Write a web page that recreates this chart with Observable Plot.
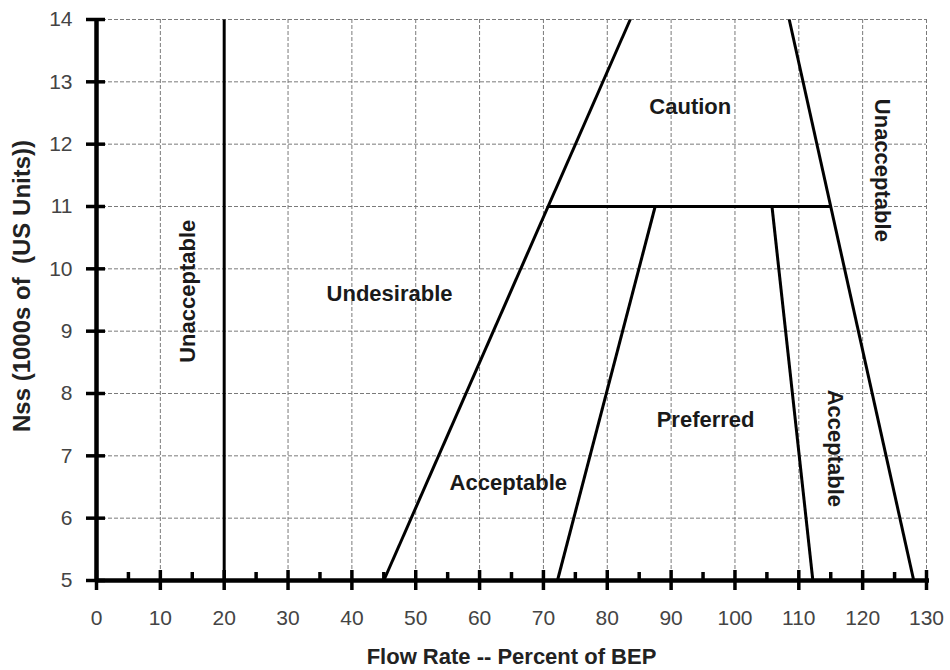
<!DOCTYPE html>
<html>
<head>
<meta charset="utf-8">
<script src="https://cdn.jsdelivr.net/npm/d3@7"></script>
<script src="https://cdn.jsdelivr.net/npm/@observablehq/plot@0.6"></script>
<style>
  html, body { margin: 0; padding: 0; background: #fff; }
  #chart svg { display: block; }
</style>
</head>
<body>
<div id="chart"></div>
<script>
// ---- data ----
const xMajorTicks = [0, 10, 20, 30, 40, 50, 60, 70, 80, 90, 100, 110, 120, 130];
const xMinorTicks = [5, 15, 25, 35, 45, 55, 65, 75, 85, 95, 105, 115, 125];
const yTicks = [5, 6, 7, 8, 9, 10, 11, 12, 13, 14];
const xGridLines = [10, 20, 30, 40, 50, 60, 70, 80, 90, 100, 110, 120, 130];
const yGridLines = [6, 7, 8, 9, 10, 11, 12, 13, 14];

// boundary segments (flow %, Nss in 1000s)
const segX1 = [20, 45.0, 72.2, 112.2, 128.0, 70.8];
const segY1 = [5, 5, 5, 5, 5, 11];
const segX2 = [20, 83.6, 87.5, 105.8, 108.5, 115.0];
const segY2 = [14, 14, 11, 11, 14, 11];

// region labels
const flatLabels = ["Undesirable", "Caution", "Preferred", "Acceptable"];
const flatX = [45.9, 93.0, 95.4, 64.5];
const flatY = [9.60, 12.60, 7.57, 6.56];

const upLabels = ["Unacceptable"];
const upX = [14.4];
const upY = [9.64];

const downLabels = ["Unacceptable", "Acceptable"];
const downX = [123.1, 115.7];
const downY = [11.58, 7.12];

const xTitle = "Flow Rate -- Percent of BEP";
const yTitle = "Nss (1000s of  (US Units))";

// ---- tables built from the arrays ----
const segments = segX1.map((x1, i) => ({x1, y1: segY1[i], x2: segX2[i], y2: segY2[i]}));
const flat = flatLabels.map((t, i) => ({t, x: flatX[i], y: flatY[i]}));
const up = upLabels.map((t, i) => ({t, x: upX[i], y: upY[i]}));
const down = downLabels.map((t, i) => ({t, x: downX[i], y: downY[i]}));

const FONT = "'Liberation Sans', Arial, Helvetica, sans-serif";
const labelStyle = {fontSize: 22, fontWeight: "bold", fill: "#1a1a1a", fontFamily: FONT};
const gridStyle = {stroke: "#7a7a7a", strokeOpacity: 1, strokeWidth: 1, strokeDasharray: "4,2"};

const chart = Plot.plot({
  width: 950,
  height: 670,
  marginLeft: 96,
  marginRight: 24,
  marginTop: 19,
  marginBottom: 90,
  style: {fontFamily: FONT, background: "#fff"},
  x: {domain: [0, 130]},
  y: {domain: [5, 14]},
  marks: [
    Plot.gridX(xGridLines, gridStyle),
    Plot.gridY(yGridLines, gridStyle),
    Plot.axisX(xMajorTicks, {tickSize: 0, tickPadding: 30, fontSize: 21, fill: "#444", label: null, lineAnchor: "top", tickFormat: "d"}),
    Plot.axisY(yTicks, {tickSize: 0, tickPadding: 24, fontSize: 21, fill: "#444", label: null, tickFormat: "d"}),
    // boundaries
    Plot.link(segments, {x1: "x1", y1: "y1", x2: "x2", y2: "y2", stroke: "#000", strokeWidth: 3}),
    // axis lines
    Plot.ruleY([5], {x1: 0, x2: 130, stroke: "#000", strokeWidth: 4.5, insetRight: -3}),
    Plot.ruleX([0], {y1: 5, y2: 14, stroke: "#000", strokeWidth: 4.5}),
    // ticks
    Plot.ruleX(xMajorTicks, {x: d => d, y1: 5, y2: 5, insetTop: -10, insetBottom: -10, stroke: "#000", strokeWidth: 3.5}),
    Plot.ruleX(xMinorTicks, {x: d => d, y1: 5, y2: 5, insetTop: -8, insetBottom: 0, stroke: "#000", strokeWidth: 3.5}),
    Plot.ruleY(yTicks, {y: d => d, x1: 0, x2: 0, insetLeft: -10, insetRight: -9, stroke: "#000", strokeWidth: 3.5}),
    // region labels
    Plot.text(flat, {x: "x", y: "y", text: "t", ...labelStyle}),
    Plot.text(up, {x: "x", y: "y", text: "t", rotate: -90, ...labelStyle}),
    Plot.text(down, {x: "x", y: "y", text: "t", rotate: 90, ...labelStyle}),
    // axis titles
    Plot.text([xTitle], {frameAnchor: "bottom", textAnchor: "middle", lineAnchor: "middle", dy: 76, fontSize: 22, fontWeight: "bold", fill: "#222", fontFamily: FONT}),
    Plot.text([yTitle], {frameAnchor: "left", textAnchor: "middle", lineAnchor: "middle", dx: -74, dy: -14, rotate: -90, fontSize: 24, fontWeight: "bold", fill: "#222", fontFamily: FONT})
  ]
});
document.getElementById("chart").appendChild(chart);
</script>
</body>
</html>
